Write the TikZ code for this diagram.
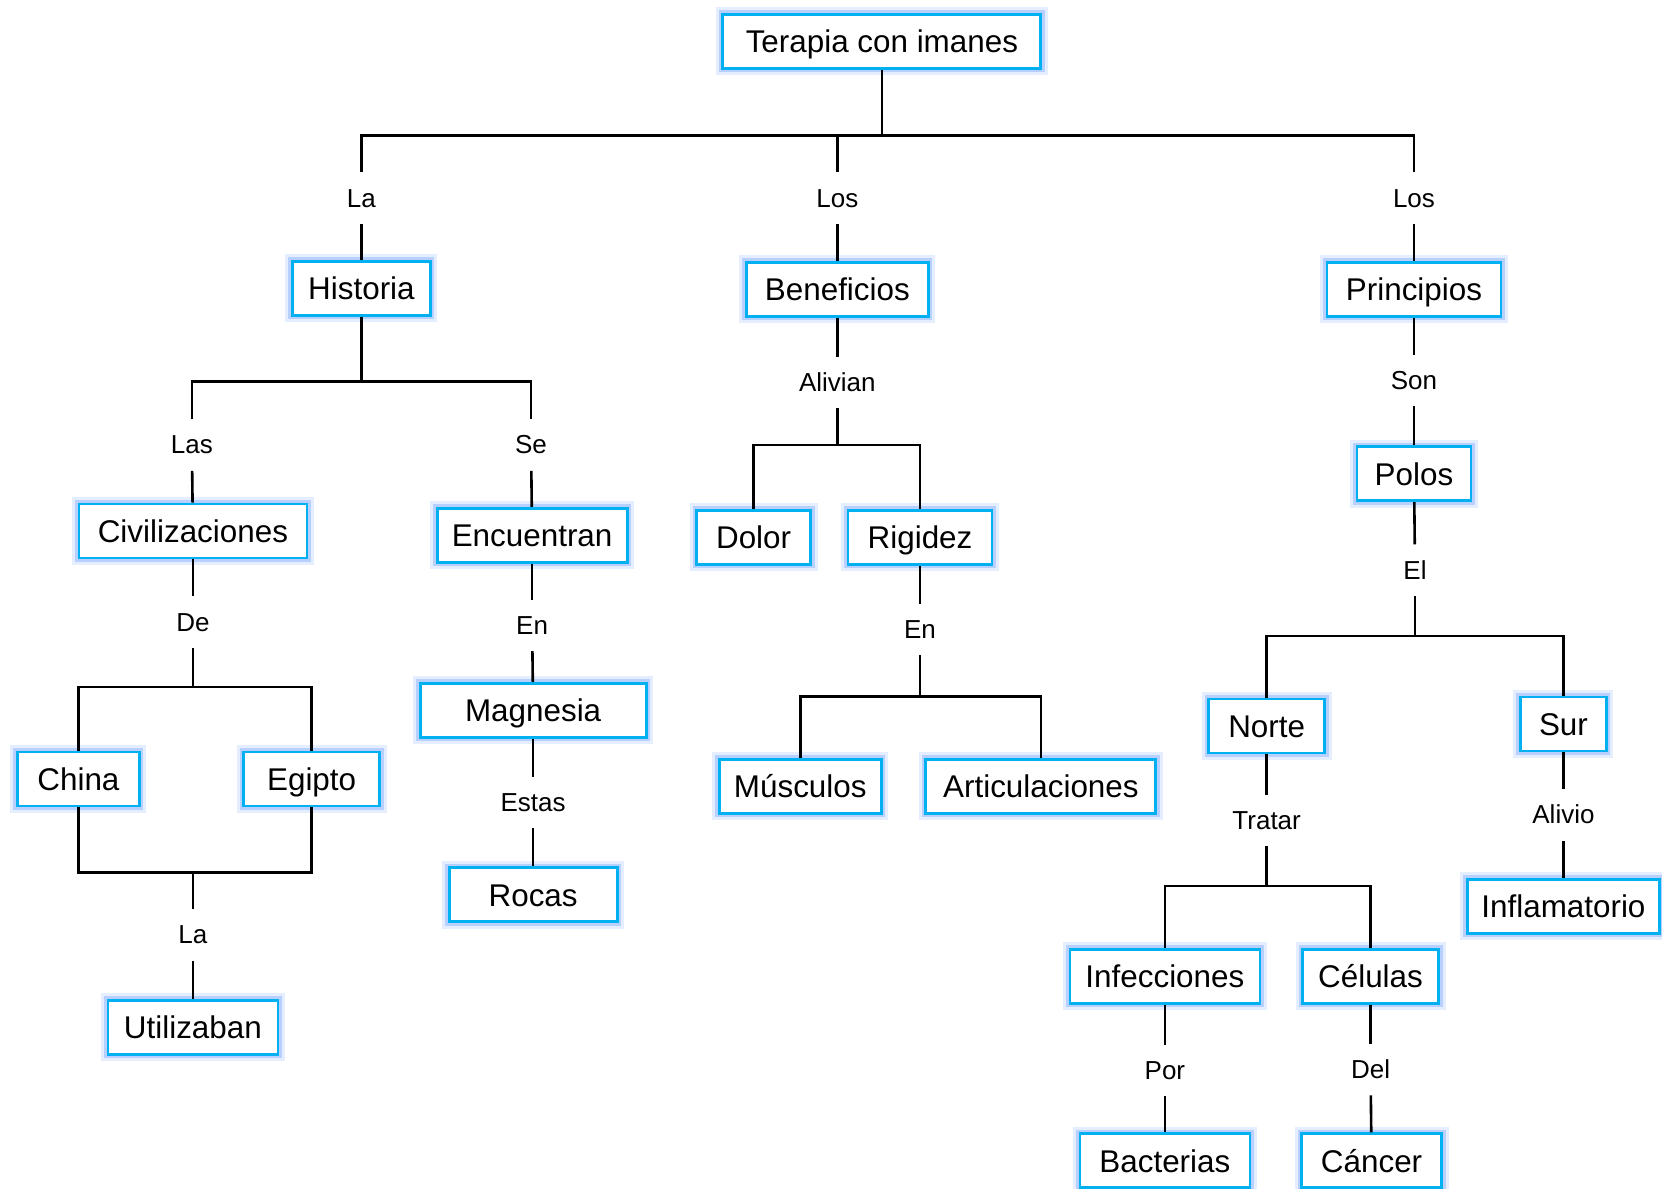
\documentclass[tikz,border=0pt]{standalone}
\usepackage{fontspec}
\setmainfont{Liberation Sans}
\usepackage{tikz}
\definecolor{imancyan}{RGB}{0,176,240}
\definecolor{imanglow}{RGB}{80,140,255}

\begin{document}
\begin{tikzpicture}[x=0.53pt,y=-0.53pt,
    concept/.style={draw=imancyan,line width=1.4pt,fill=white,
        minimum height=27pt,inner xsep=0pt,inner ysep=0pt,
        text height=13pt,text depth=1.6pt,
        font=\fontsize{15.7}{18}\selectfont,
        preaction={draw=imanglow,line width=7pt,opacity=0.15},
        preaction={draw=imanglow,line width=4pt,opacity=0.3}},
    link/.style={inner sep=0pt,minimum height=25.4pt,
        text height=10.5pt,text depth=1.7pt,
        font=\fontsize{13}{15}\selectfont},
    wire/.style={line width=1.3pt}]
    \useasboundingbox (0,0) rectangle (1568,1121);

    % Root
    \node[concept,minimum width=159pt] (terapia) at (832,39) {Terapia con imanes};
    \coordinate (b0) at (832,128);
    \node[link] (la1) at (341,187) {La};
    \node[link] (los1) at (790,187) {Los};
    \node[link] (los2) at (1334,187) {Los};
    \draw[wire] (terapia) -- (b0);
    \draw[wire] (la1) |- (b0);
    \draw[wire] (los1) |- (b0);
    \draw[wire] (los2) |- (b0);

    % Historia
    \node[concept,minimum width=69pt] (historia) at (341,272) {Historia};
    \draw[wire] (la1) -- (historia);
    \coordinate (b1) at (341,360);
    \node[link] (las) at (181,420) {Las};
    \node[link] (se) at (501,420) {Se};
    \draw[wire] (historia) -- (b1);
    \draw[wire] (las) |- (b1);
    \draw[wire] (se) |- (b1);
    \node[concept,minimum width=114pt] (civil) at (182,501) {Civilizaciones};
    \node[concept,minimum width=95pt] (encuentran) at (502,505) {Encuentran};
    \draw[wire] (las) -- (civil);
    \draw[wire] (se) -- (encuentran);

    % Civilizaciones
    \node[link] (de) at (182,587) {De};
    \coordinate (b3) at (182,648);
    \node[concept,minimum width=61pt] (china) at (74,735) {China};
    \node[concept,minimum width=68pt] (egipto) at (294,735) {Egipto};
    \draw[wire] (civil) -- (de);
    \draw[wire] (de) -- (b3);
    \draw[wire] (china) |- (b3);
    \draw[wire] (egipto) |- (b3);
    \coordinate (b4) at (182,823);
    \node[link] (la2) at (182,882) {La};
    \node[concept,minimum width=85pt] (utilizaban) at (182,969) {Utilizaban};
    \draw[wire] (china) |- (b4);
    \draw[wire] (egipto) |- (b4);
    \draw[wire] (b4) -- (la2);
    \draw[wire] (la2) -- (utilizaban);

    % Encuentran
    \node[link] (en1) at (502,590) {En};
    \node[concept,minimum width=113pt] (magnesia) at (503,670) {Magnesia};
    \node[link] (estas) at (503,757) {Estas};
    \node[concept,minimum width=84pt] (rocas) at (503,844) {Rocas};
    \draw[wire] (encuentran) -- (en1);
    \draw[wire] (en1) -- (magnesia);
    \draw[wire] (magnesia) -- (estas);
    \draw[wire] (estas) -- (rocas);

    % Beneficios
    \node[concept,minimum width=91pt] (beneficios) at (790,273) {Beneficios};
    \draw[wire] (los1) -- (beneficios);
    \node[link] (alivian) at (790,361) {Alivian};
    \coordinate (b2) at (790,420);
    \node[concept,minimum width=57pt] (dolor) at (711,507) {Dolor};
    \node[concept,minimum width=72pt] (rigidez) at (868,507) {Rigidez};
    \draw[wire] (beneficios) -- (alivian);
    \draw[wire] (alivian) -- (b2);
    \draw[wire] (dolor) |- (b2);
    \draw[wire] (rigidez) |- (b2);
    \node[link] (en2) at (868,594) {En};
    \coordinate (b5) at (868,657);
    \node[concept,minimum width=81pt] (musculos) at (755,742) {Músculos};
    \node[concept,minimum width=115pt] (articul) at (982,742) {Articulaciones};
    \draw[wire] (rigidez) -- (en2);
    \draw[wire] (en2) -- (b5);
    \draw[wire] (musculos) |- (b5);
    \draw[wire] (articul) |- (b5);

    % Principios
    \node[concept,minimum width=87pt] (principios) at (1334,273) {Principios};
    \draw[wire] (los2) -- (principios);
    \node[link] (son) at (1334,359) {Son};
    \node[concept,minimum width=57pt] (polos) at (1334,447) {Polos};
    \draw[wire] (principios) -- (son);
    \draw[wire] (son) -- (polos);
    \node[link] (el) at (1335,538) {El};
    \coordinate (b6) at (1335,600);
    \node[concept,minimum width=58pt] (norte) at (1195,685) {Norte};
    \node[concept,minimum width=43pt] (sur) at (1475,683) {Sur};
    \draw[wire] (polos) -- (el);
    \draw[wire] (el) -- (b6);
    \draw[wire] (norte) |- (b6);
    \draw[wire] (sur) |- (b6);

    % Norte
    \node[link] (tratar) at (1195,774) {Tratar};
    \coordinate (b7) at (1195,836);
    \node[concept,minimum width=95pt] (infecciones) at (1099,921) {Infecciones};
    \node[concept,minimum width=68pt] (celulas) at (1293,921) {Células};
    \draw[wire] (norte) -- (tratar);
    \draw[wire] (tratar) -- (b7);
    \draw[wire] (infecciones) |- (b7);
    \draw[wire] (celulas) |- (b7);
    \node[link] (por) at (1099,1010) {Por};
    \node[link] (del) at (1293,1009) {Del};
    \node[concept,minimum width=85pt] (bacterias) at (1099,1095) {Bacterias};
    \node[concept,minimum width=70pt] (cancer) at (1294,1095) {Cáncer};
    \draw[wire] (infecciones) -- (por);
    \draw[wire] (por) -- (bacterias);
    \draw[wire] (celulas) -- (del);
    \draw[wire] (del) -- (cancer);

    % Sur
    \node[link] (alivio) at (1475,769) {Alivio};
    \node[concept,minimum width=96pt] (inflam) at (1475,855) {Inflamatorio};
    \draw[wire] (sur) -- (alivio);
    \draw[wire] (alivio) -- (inflam);
\end{tikzpicture}
\end{document}
